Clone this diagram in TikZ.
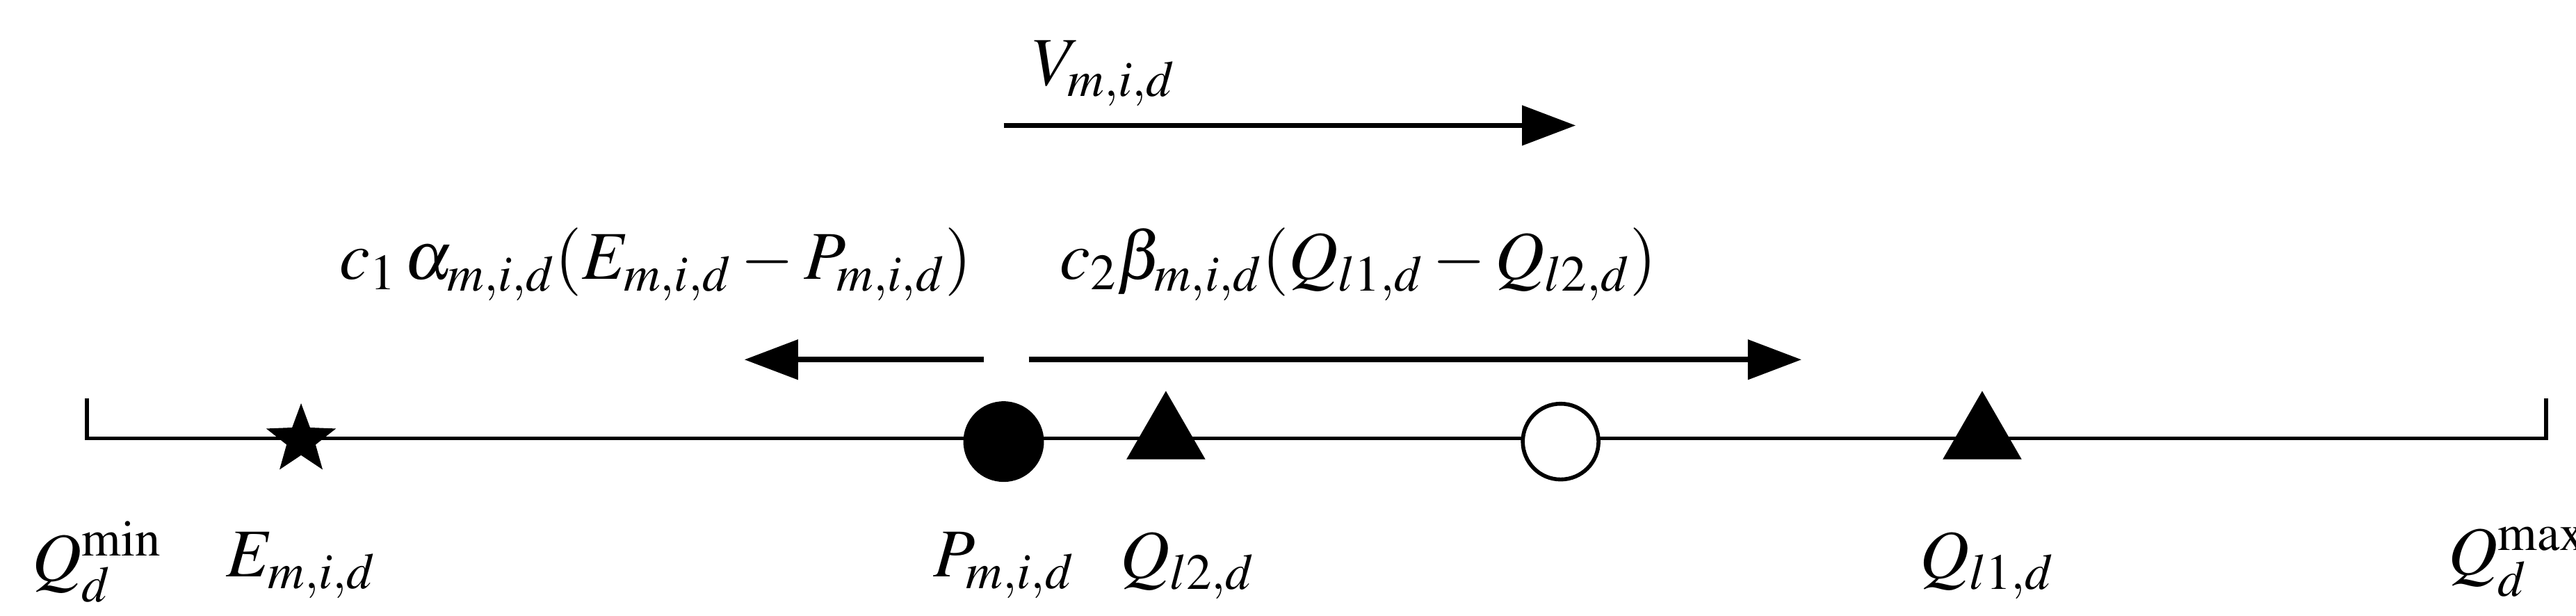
\documentclass[tikz,border=0pt]{standalone}
\usepackage{mathptmx}
\usepackage{fontspec}
\setmainfont{Liberation Serif}
\usetikzlibrary{arrows.meta,shapes.geometric}
\begin{document}
\begin{tikzpicture}[x=0.024058cm,y=-0.024058cm,
  lbl/.style={font=\fontsize{28}{34}\selectfont},
  arr/.style={line width=2.2pt,-{Triangle[length=22pt,width=16pt]}},
  ln/.style={line width=1.6pt}]
\useasboundingbox (0,0) rectangle (1540,368);
\coordinate (L) at (52,262); \coordinate (R) at (1522,262);
\draw[ln] (52,238) -- (L) -- (R) -- (1522,238);
\node[star,star points=5,star point ratio=2.4,fill=black,minimum size=30pt,inner sep=0] (E) at (180,263) {};
\node[circle,fill=black,minimum size=33pt,inner sep=0] (P) at (600,264) {};
\node[isosceles triangle,isosceles triangle apex angle=60,shape border rotate=90,fill=black,minimum size=28pt,inner sep=0] (Q2) at (697,261) {};
\node[isosceles triangle,isosceles triangle apex angle=60,shape border rotate=90,fill=black,minimum size=28pt,inner sep=0] (Q1) at (1185,261) {};
\node[circle,draw,ln,fill=white,minimum size=31pt,inner sep=0] (O) at (933,264) {};
\node[lbl] (qmin) at (58,336) {$Q_d^{\mathrm{min}}$};
\node[lbl] (le) at (180,338) {$E_{m,i,d}$};
\node[lbl] (lp) at (600,338) {$P_{m,i,d}$};
\node[lbl] (lq2) at (710,338) {$Q_{l2,d}$};
\node[lbl] (lq1) at (1188,338) {$Q_{l1,d}$};
\node[lbl] (qmax) at (1505,336) {$Q_d^{\mathrm{max}}$};
\coordinate (a1) at (588,215); \coordinate (a2) at (445,215);
\coordinate (b1) at (615,215); \coordinate (b2) at (1077,215);
\coordinate (c1) at (600,75); \coordinate (c2) at (942,75);
\draw[arr] (a1) -- (a2);
\draw[arr] (b1) -- (b2);
\draw[arr] (c1) -- (c2);
\node[lbl] (ta) at (392,158) {$c_1\,\alpha_{m,i,d}(E_{m,i,d}-P_{m,i,d})$};
\node[lbl] (tb) at (812,158) {$c_2\beta_{m,i,d}(Q_{l1,d}-Q_{l2,d})$};
\node[lbl] (tv) at (660,44) {$V_{m,i,d}$};
\end{tikzpicture}
\end{document}
